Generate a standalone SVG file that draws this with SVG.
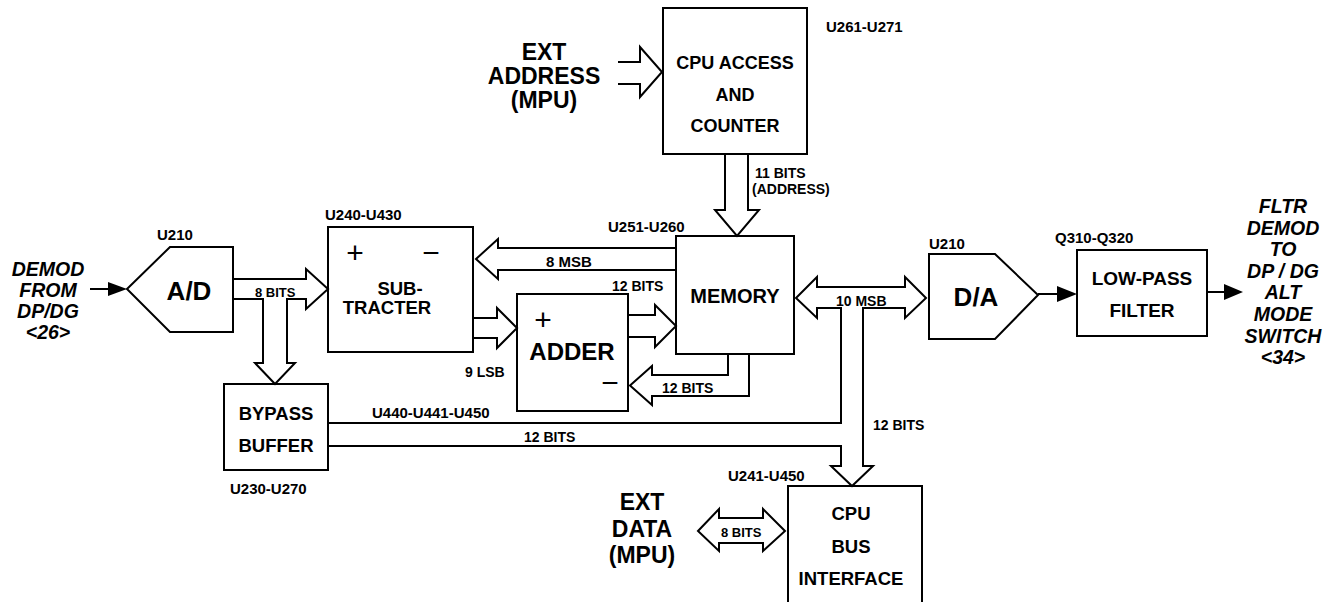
<svg xmlns="http://www.w3.org/2000/svg" width="1335" height="602" viewBox="0 0 1335 602">
<style>
.s{fill:none;stroke:#000;stroke-width:2;stroke-linejoin:miter}
.f{fill:#000;stroke:none}
text{font-family:"Liberation Sans",Arial,sans-serif;font-weight:bold;fill:#000}
.lbl{font-size:15px}
.bits{font-size:14px}
.box{font-size:18.5px;text-anchor:middle}
.big{font-size:23px;text-anchor:middle}
.sig{font-size:19.5px;font-style:italic;text-anchor:middle}
.pm{font-size:30px;text-anchor:middle;font-weight:normal}
</style>
<rect width="1335" height="602" fill="#fff"/>

<g id="demod-in">
<text class="sig" x="48" y="276">DEMOD</text>
<text class="sig" x="48" y="297">FROM</text>
<text class="sig" x="48" y="318">DP/DG</text>
<text class="sig" x="48" y="339">&lt;26&gt;</text>
</g>

<g id="ad">
<polygon class="s" points="127,289 170,247 233,247 233,332 170,332"/>
<text x="189" y="300" style="font-size:26px;text-anchor:middle">A/D</text>
<text class="lbl" x="157" y="240">U210</text>
</g>

<g id="subtracter">
<rect class="s" x="328" y="227" width="145" height="125"/>
<text class="pm" x="355" y="263">+</text>
<text class="pm" x="431" y="263">−</text>
<text class="box" x="400" y="295">SUB-</text>
<text class="box" x="387" y="314">TRACTER</text>
<text class="lbl" x="325" y="220">U240-U430</text>
</g>

<g id="adder">
<rect class="s" x="517" y="294" width="111" height="117"/>
<text class="pm" x="543" y="330">+</text>
<text class="pm" x="610" y="393">−</text>
<text x="572" y="360" style="font-size:24px;text-anchor:middle">ADDER</text>
</g>

<g id="bypass">
<rect class="s" x="224" y="384" width="104" height="86"/>
<text class="box" x="276" y="420">BYPASS</text>
<text class="box" x="276" y="452">BUFFER</text>
<text class="lbl" x="230" y="494">U230-U270</text>
</g>

<g id="cpu-access">
<rect class="s" x="663" y="8" width="144" height="146"/>
<text class="box" x="735" y="69" style="font-size:18px">CPU ACCESS</text>
<text class="box" x="735" y="101" style="font-size:18px">AND</text>
<text class="box" x="735" y="132" style="font-size:18px">COUNTER</text>
<text class="lbl" x="826" y="32">U261-U271</text>
</g>

<g id="ext-address">
<text class="big" x="544" y="60">EXT</text>
<text class="big" x="544" y="84">ADDRESS</text>
<text class="big" x="544" y="108">(MPU)</text>
</g>

<g id="memory">
<rect class="s" x="676" y="236" width="118" height="118"/>
<text x="735" y="303" style="font-size:20px;text-anchor:middle">MEMORY</text>
<text class="lbl" x="608" y="232">U251-U260</text>
</g>

<g id="da">
<polygon class="s" points="929,254 995,254 1038,295 995,339 929,339"/>
<text x="976" y="306" style="font-size:26px;text-anchor:middle">D/A</text>
<text class="lbl" x="929" y="249">U210</text>
</g>

<g id="lowpass">
<rect class="s" x="1077" y="250" width="130" height="86"/>
<text class="box" x="1142" y="285" style="font-size:19px">LOW-PASS</text>
<text class="box" x="1142" y="317" style="font-size:19px">FILTER</text>
<text class="lbl" x="1055" y="243">Q310-Q320</text>
</g>

<g id="fltr-out">
<text class="sig" x="1283" y="213">FLTR</text>
<text class="sig" x="1283" y="235">DEMOD</text>
<text class="sig" x="1283" y="256">TO</text>
<text class="sig" x="1283" y="278">DP / DG</text>
<text class="sig" x="1283" y="299">ALT</text>
<text class="sig" x="1283" y="321">MODE</text>
<text class="sig" x="1283" y="343">SWITCH</text>
<text class="sig" x="1283" y="364">&lt;34&gt;</text>
</g>

<g id="cpu-bus">
<rect class="s" x="788" y="486" width="134" height="130"/>
<text class="box" x="851" y="520">CPU</text>
<text class="box" x="851" y="553">BUS</text>
<text class="box" x="851" y="585">INTERFACE</text>
<text class="lbl" x="728" y="481">U241-U450</text>
</g>

<g id="ext-data">
<text class="big" x="642" y="510">EXT</text>
<text class="big" x="642" y="537">DATA</text>
<text class="big" x="642" y="563">(MPU)</text>
</g>

<g id="connectors">
<line class="s" x1="90" y1="289" x2="110" y2="289"/>
<polygon class="f" points="108,282 127,289 108,296"/>
<polyline class="s" points="233,279 306,279 306,269 328,289 306,309 306,299 287,299 287,363 295,363 275,384 255,363 263,363 263,299 233,299"/>
<text class="bits" x="255" y="297" style="font-size:13px">8 BITS</text>
<polyline class="s" points="676,248 498,248 498,239 476,259 498,279 498,270 676,270"/>
<text class="bits" x="546" y="267" style="font-size:15px">8 MSB</text>
<polyline class="s" points="473,318 497,318 497,308 517,328 497,348 497,338 473,338"/>
<text class="bits" x="465" y="377">9 LSB</text>
<polyline class="s" points="628,315 655,315 655,305 676,326 655,347 655,337 628,337"/>
<text class="bits" x="612" y="291">12  BITS</text>
<polyline class="s" points="728,354 728,375 652,375 652,366 630,385.5 652,405 652,396 749,396 749,354"/>
<text class="bits" x="662" y="393">12  BITS</text>
<polyline class="s" points="725,154 725,210 715,210 737,236 759,210 748,210 748,154"/>
<text class="bits" x="755" y="178">11 BITS</text>
<text class="bits" x="752" y="194">(ADDRESS)</text>
<polyline class="s" points="618,62 640,62 640,47 662,72 640,97 640,84 618,84"/>
<polyline class="s" points="328,423 841,423 841,308 817,308 817,318 796,298 817,277 817,287 905,287 905,277 926,298 905,318 905,308 863,308 863,466 873,466 852,486 831,466 841,466 841,446 328,446"/>
<text class="bits" x="836" y="306">10 MSB</text>
<text class="bits" x="873" y="430">12 BITS</text>
<text class="bits" x="524" y="442">12 BITS</text>
<text class="lbl" x="372" y="418">U440-U441-U450</text>
<polygon class="s" points="698,531 719,509 719,518 763,518 763,509 785,531 763,551 763,543 719,543 719,551"/>
<text class="bits" x="721" y="537" style="font-size:13px">8 BITS</text>
<line class="s" x1="1038" y1="294" x2="1059" y2="294"/>
<polygon class="f" points="1057,286 1077,294 1057,302"/>
<line class="s" x1="1207" y1="292" x2="1226" y2="292"/>
<polygon class="f" points="1224,284 1243,292 1224,300"/>
</g>
</svg>
